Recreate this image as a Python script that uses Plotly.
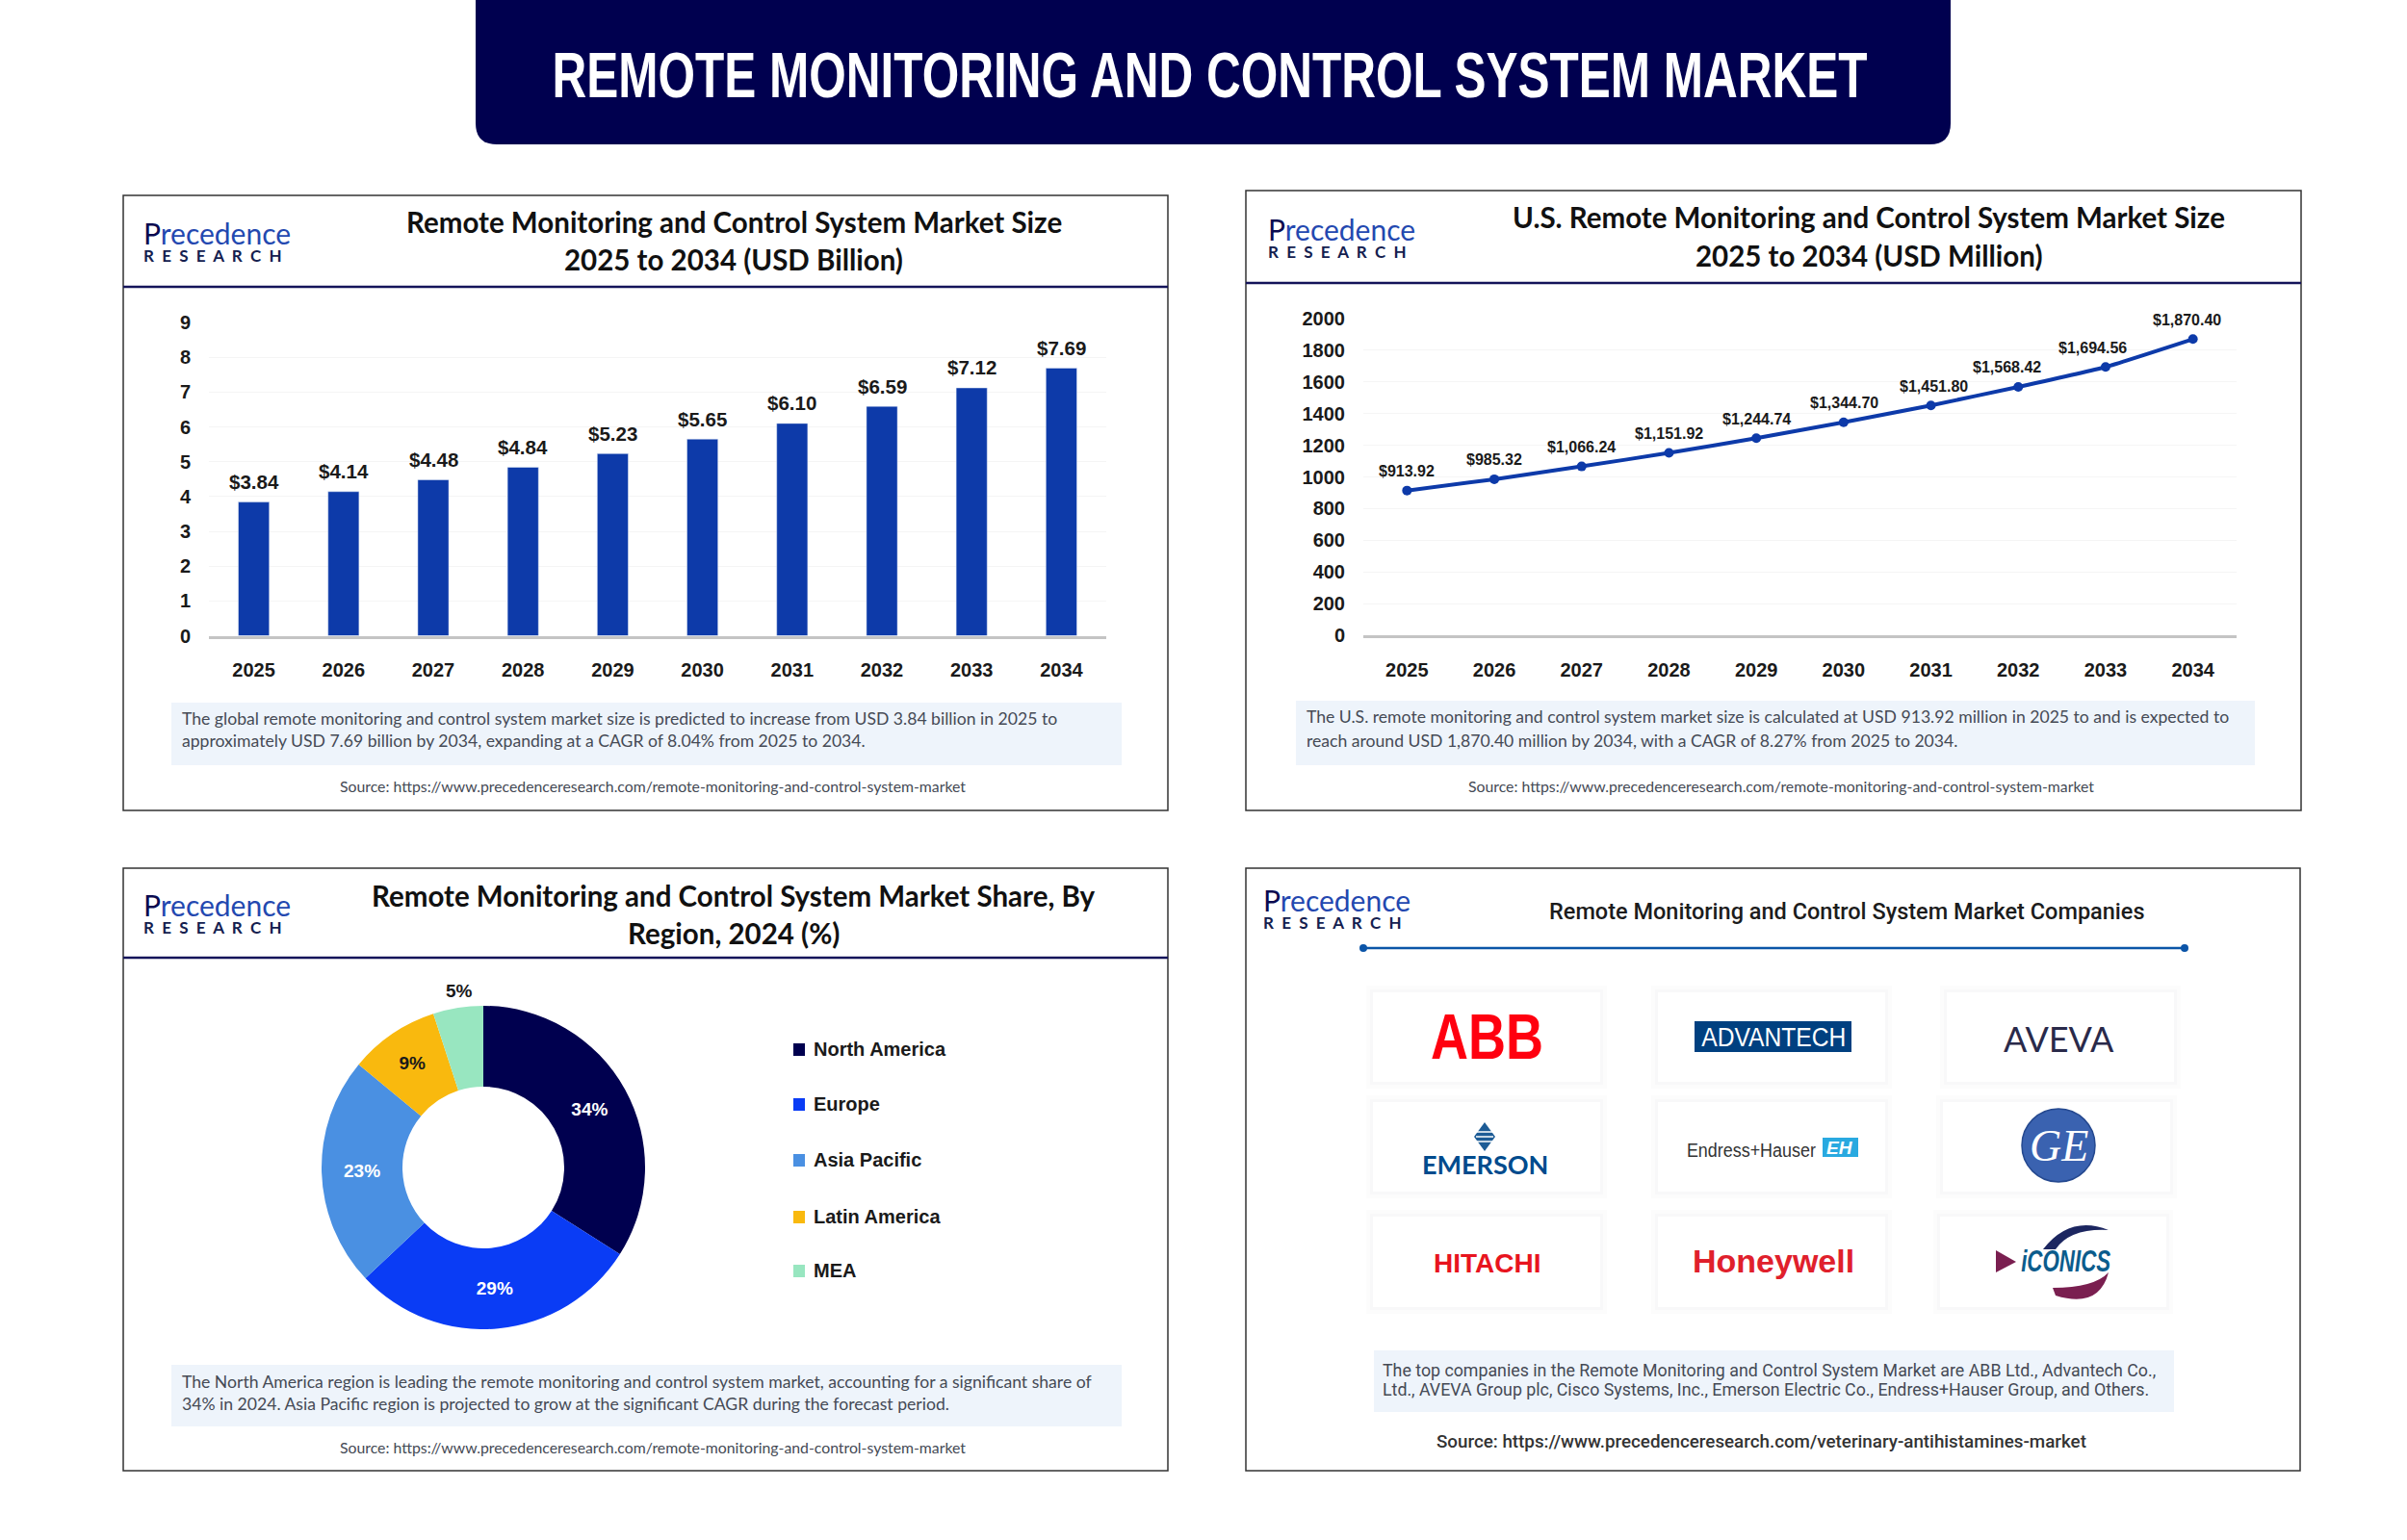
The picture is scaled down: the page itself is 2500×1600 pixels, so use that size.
import json
import plotly.graph_objects as go

years = ["2025", "2026", "2027", "2028", "2029", "2030", "2031", "2032", "2033", "2034"]
market_size = [3.84, 4.14, 4.48, 4.84, 5.23, 5.65, 6.10, 6.59, 7.12, 7.69]
us_market_size = [913.92, 985.32, 1066.24, 1151.92, 1244.74, 1344.70, 1451.80, 1568.42, 1694.56, 1870.40]
regions = ["North America", "Europe", "Asia Pacific", "Latin America", "MEA"]
region_share = [34, 29, 23, 9, 5]
region_colors = ["#00004f", "#0a3cf5", "#4a90e2", "#f9b90e", "#98e6c0"]

TITLE = "REMOTE MONITORING AND CONTROL SYSTEM MARKET"
SOURCE = "Source: https://www.precedenceresearch.com/remote-monitoring-and-control-system-market"
SOURCE_4 = "Source: https://www.precedenceresearch.com/veterinary-antihistamines-market"

NAVY = "#00004f"
BAR = "#0d3aa9"
TEXT = "#454a55"
BOX = "#eef4fb"
W, H = 2500, 1600

# the fonts here have no narrow cut, so these strings get squeezed to width in the page
squeeze = {TITLE: 1366, "ABB": 117, "ADVANTECH": 150, "Endress+Hauser": 134, "iCONICS": 93}


def px(x):
    return x / W


def py(y):
    return 1 - y / H


shapes = []
notes = []


def note(x, y, text, size, color="#111111", font="Lato", weight="normal", anchor="center", style="normal"):
    notes.append(dict(x=px(x), y=py(y), xref="paper", yref="paper", text=text, showarrow=False,
                      xanchor=anchor, yanchor="middle", align=anchor if anchor != "center" else "center",
                      font=dict(size=size, color=color, family=font, weight=weight, style=style)))


def rect(x0, y0, x1, y1, fill="rgba(0,0,0,0)", line=None, width=0, layer="below"):
    shapes.append(dict(type="rect", xref="paper", yref="paper", x0=px(x0), x1=px(x1), y0=py(y0), y1=py(y1),
                       fillcolor=fill, line=dict(color=line or fill, width=width), layer=layer))


def hline(x0, x1, y, color, width, layer="below"):
    shapes.append(dict(type="line", xref="paper", yref="paper", x0=px(x0), x1=px(x1), y0=py(y), y1=py(y),
                       line=dict(color=color, width=width), layer=layer))


def path(points, fill, layer="above"):
    out = []
    for p in points:
        if p[0] == "Q":
            out.append(f"Q {px(p[1]):.5f},{py(p[2]):.5f} {px(p[3]):.5f},{py(p[4]):.5f}")
        else:
            out.append(f"{'M' if not out else 'L'} {px(p[0]):.5f},{py(p[1]):.5f}")
    shapes.append(dict(type="path", xref="paper", yref="paper", path=" ".join(out) + " Z",
                       fillcolor=fill, line=dict(width=0), layer=layer))


def logo(x, y):
    spaced = "\u00a0\u00a0".join("RESEARCH")
    text = ('<span style="font-size:30px;color:#2348b0"><span style="color:#0a0a50">P</span>recedence</span>'
            f'<br><span style="font-size:17px"><b>{spaced}</b></span>')
    note(x, y, text, 14, "#14204f", "Lato", anchor="left")


def panel(x0, y0, x1, y1, header=None):
    rect(x0, y0, x1, y1, "white", "#333333", 1.5)
    if header:
        hline(x0, x1, header, "#14145a", 2.5)


def card(x0, y0, x1, y1):
    rect(x0 - 7, y0 - 7, x1 + 7, y1 + 7, "#fcfcfc")
    rect(x0 - 3, y0 - 3, x1 + 3, y1 + 3, "#f8f8f9")
    rect(x0, y0, x1, y1, "white")


# banner
path([(494, 0), (2026, 0), (2026, 128), ("Q", 2026, 150, 2004, 150), (516, 150), ("Q", 494, 150, 494, 128)],
     NAVY, layer="below")
note(1256, 78, TITLE, 66, "white", "Liberation Sans", "bold")

# panel 1
panel(128, 203, 1213, 842, 298)
logo(147, 250)
note(762, 230, "Remote Monitoring and Control System Market Size", 29.5, weight="bold")
note(762, 270, "2025 to 2034 (USD Billion)", 29.5, weight="bold")
rect(178, 730, 1165, 795, BOX)
note(187, 746, "The global remote monitoring and control system market size is predicted to increase from USD 3.84 billion in 2025 to", 17.6, TEXT, anchor="left")
note(187, 770, "approximately USD 7.69 billion by 2034, expanding at a CAGR of 8.04% from 2025 to 2034.", 17.6, TEXT, anchor="left")
note(678, 816, SOURCE, 15.8, TEXT)

# panel 2
panel(1294, 198, 2390, 842, 294)
logo(1315, 246)
note(1941, 225, "U.S. Remote Monitoring and Control System Market Size", 29.5, weight="bold")
note(1941, 265, "2025 to 2034 (USD Million)", 29.5, weight="bold")
rect(1346, 728, 2342, 795, BOX)
note(1355, 745, "The U.S. remote monitoring and control system market size is calculated at USD 913.92 million in 2025 to and is expected to", 17.6, TEXT, anchor="left")
note(1355, 769, "reach around USD 1,870.40 million by 2034, with a CAGR of 8.27% from 2025 to 2034.", 17.6, TEXT, anchor="left")
note(1850, 816, SOURCE, 15.8, TEXT)

# panel 3
panel(128, 902, 1213, 1528, 995)
logo(147, 948)
note(762, 930, "Remote Monitoring and Control System Market Share, By", 29.5, weight="bold")
note(762, 970, "Region, 2024 (%)", 29.5, weight="bold")
rect(178, 1418, 1165, 1482, BOX)
note(187, 1435, "The North America region is leading the remote monitoring and control system market, accounting for a significant share of", 17.6, TEXT, anchor="left")
note(187, 1458, "34% in 2024. Asia Pacific region is projected to grow at the significant CAGR during the forecast period.", 17.6, TEXT, anchor="left")
note(678, 1503, SOURCE, 15.8, TEXT)

legend_y = [1090, 1147, 1205, 1264, 1320]
for name, color, y in zip(regions, region_colors, legend_y):
    rect(824, y - 6, 836, y + 7, color)
    note(843, y, name, 20, "#1a1a1a", "Liberation Sans", "bold", anchor="left")
note(477, 1029, f"{region_share[-1]}%", 19, "#1a1a1a", "Liberation Sans", "bold")

# panel 4
panel(1294, 902, 2389, 1528)
logo(1310, 943)
note(1918, 947, "Remote Monitoring and Control System Market Companies", 23.5, "#1c1c1c", "Roboto", 500)
hline(1416, 2269, 985, "#0b55a8", 2.5)
for cx in [1416, 2269]:
    shapes.append(dict(type="circle", xref="paper", yref="paper", x0=px(cx - 4), x1=px(cx + 4),
                       y0=py(981), y1=py(989), fillcolor="#0b55a8", line=dict(width=0)))
card(1426, 1031, 1662, 1124)
card(1722, 1031, 1958, 1124)
card(2022, 1031, 2258, 1124)
card(1426, 1145, 1662, 1238)
card(1722, 1145, 1958, 1238)
card(2018, 1145, 2254, 1238)
card(1426, 1264, 1662, 1358)
card(1722, 1264, 1958, 1358)
card(2015, 1264, 2250, 1358)

# company marks, drawn as text with a few shapes
note(1544, 1077, "ABB", 66, "#ff000f", "Liberation Sans", "bold")
rect(1760, 1061, 1923, 1093, "#004080", layer="above")
note(1842, 1078, "ADVANTECH", 27, "white", "Liberation Sans")
note(2138, 1079, "AVEVA", 36, "#2a2a4a", "Lato")
path([(1542, 1166), (1553, 1181), (1542, 1196), (1531, 1181)], "#1d5c96")
hline(1533, 1551, 1176, "white", 1.5, layer="above")
hline(1533, 1551, 1181, "white", 1.5, layer="above")
hline(1533, 1551, 1186, "white", 1.5, layer="above")
note(1542, 1209, "EMERSON", 27, "#004b8d", "Lato", "bold")
note(1819, 1195, "Endress+Hauser", 19.5, "#333333", "Liberation Sans")
rect(1893, 1182, 1930, 1202, "#29a9e0", layer="above")
note(1911, 1192, "EH", 19, "white", "Liberation Sans", "bold", style="italic")
shapes.append(dict(type="circle", xref="paper", yref="paper", x0=px(2100), x1=px(2176), y0=py(1152), y1=py(1228),
                   fillcolor="#3a62b0", line=dict(color="#24488f", width=1.5)))
note(2138, 1190, "GE", 46, "white", "Liberation Serif", "normal", style="italic")
note(1544, 1312, "HITACHI", 28, "#e8141e", "Liberation Sans", "bold")
note(1842, 1310, "Honeywell", 34, "#e0202c", "Liberation Sans", "bold")
path([(2073, 1299), (2094, 1311), (2073, 1322)], "#7a1f50")
path([(2122, 1298), ("Q", 2150, 1262, 2190, 1278), ("Q", 2150, 1276, 2135, 1298)], "#1c2660")
path([(2132, 1338), ("Q", 2175, 1338, 2190, 1322), ("Q", 2180, 1360, 2135, 1346)], "#7a1f50")
note(2146, 1310, "iCONICS", 32, "#0b5c8c", "Liberation Sans", "bold", style="italic")

rect(1427, 1403, 2258, 1467, BOX)
note(1434, 1423, "The top companies in the Remote Monitoring and Control System Market are ABB Ltd., Advantech Co.,", 17.8, TEXT, "Roboto", anchor="left")
note(1434, 1443, "Ltd., AVEVA Group plc, Cisco Systems, Inc., Emerson Electric Co., Endress+Hauser Group, and Others.", 17.8, TEXT, "Roboto", anchor="left")
note(1829, 1498, SOURCE_4, 18.8, "#333333", "Roboto", 500)

fig = go.Figure()

fig.add_trace(go.Bar(x=years, y=market_size, marker_color=BAR, width=0.345, xaxis="x", yaxis="y"))

fig.add_trace(go.Scatter(x=years, y=us_market_size, mode="lines+markers", xaxis="x2", yaxis="y2",
                         line=dict(color=BAR, width=4, shape="spline", smoothing=0.4),
                         marker=dict(color=BAR, size=10)))

# value labels hang off the data; the nudges put the line labels where the original has them
label_font = dict(color="#1a1a1a", family="Liberation Sans", weight="bold")
for i, v in enumerate(market_size):
    notes.append(dict(x=i, y=v, xref="x", yref="y", text=f"${v:.2f}", showarrow=False,
                      yshift=21, font=dict(label_font, size=20.5)))

label_dx = [0, 0, 0, 0, 0, 1, 3, -12, -13, -6]
for i, (v, dx) in enumerate(zip(us_market_size, label_dx)):
    notes.append(dict(x=i, y=v, xref="x2", yref="y2", text=f"${v:,.2f}", showarrow=False,
                      yshift=20, xshift=dx, font=dict(label_font, size=16)))

fig.add_trace(go.Pie(labels=regions, values=region_share, hole=0.5, sort=False, direction="clockwise",
                     marker=dict(colors=region_colors), rotation=0,
                     text=[f"{v}%" for v in region_share[:-1]] + [""], textinfo="text",
                     textposition="inside", insidetextorientation="horizontal",
                     insidetextfont=dict(size=19, color=["white", "white", "white", "#1a1a1a", "#1a1a1a"],
                                         family="Liberation Sans", weight="bold"),
                     domain=dict(x=[px(502 - 168), px(502 + 168)], y=[py(1213 + 168), py(1213 - 168)])))

tick_font = dict(size=20, color="#1a1a1a", family="Liberation Sans", weight="bold")
axis_x = dict(type="category", tickfont=tick_font, ticks="", showgrid=False, showline=True,
              linecolor="#c4c4c4", linewidth=2.5, ticklabelstandoff=16, fixedrange=True,
              range=[-0.5, 9.5])
axis_y = dict(tickfont=tick_font, ticks="", showgrid=True, gridcolor="#f5f5f5", zeroline=False,
              showline=False, ticklabelstandoff=18, fixedrange=True)

fig.update_layout(
    width=W, height=H, margin=dict(l=0, r=0, t=0, b=0, autoexpand=False), showlegend=False,
    paper_bgcolor="white", plot_bgcolor="rgba(0,0,0,0)",
    xaxis=dict(axis_x, domain=[px(217), px(1149)], anchor="y"),
    yaxis=dict(axis_y, domain=[py(660.5), py(335)], range=[0, 9], dtick=1, anchor="x"),
    xaxis2=dict(axis_x, domain=[px(1416), px(2323)], anchor="y2"),
    yaxis2=dict(axis_y, domain=[py(660), py(331)], range=[0, 2000], dtick=200, anchor="x2"),
    shapes=shapes, annotations=notes,
)

page_js = """
document.body.style.margin = '0';
var squeeze = %s;
document.querySelectorAll('.annotation-text').forEach(function (t) {
    var w = squeeze[t.textContent];
    if (w) {
        t.setAttribute('textLength', w);
        t.setAttribute('lengthAdjust', 'spacingAndGlyphs');
    }
});
""" % json.dumps(squeeze)

fig.write_html("out.html", post_script=page_js, config={"displayModeBar": False})
